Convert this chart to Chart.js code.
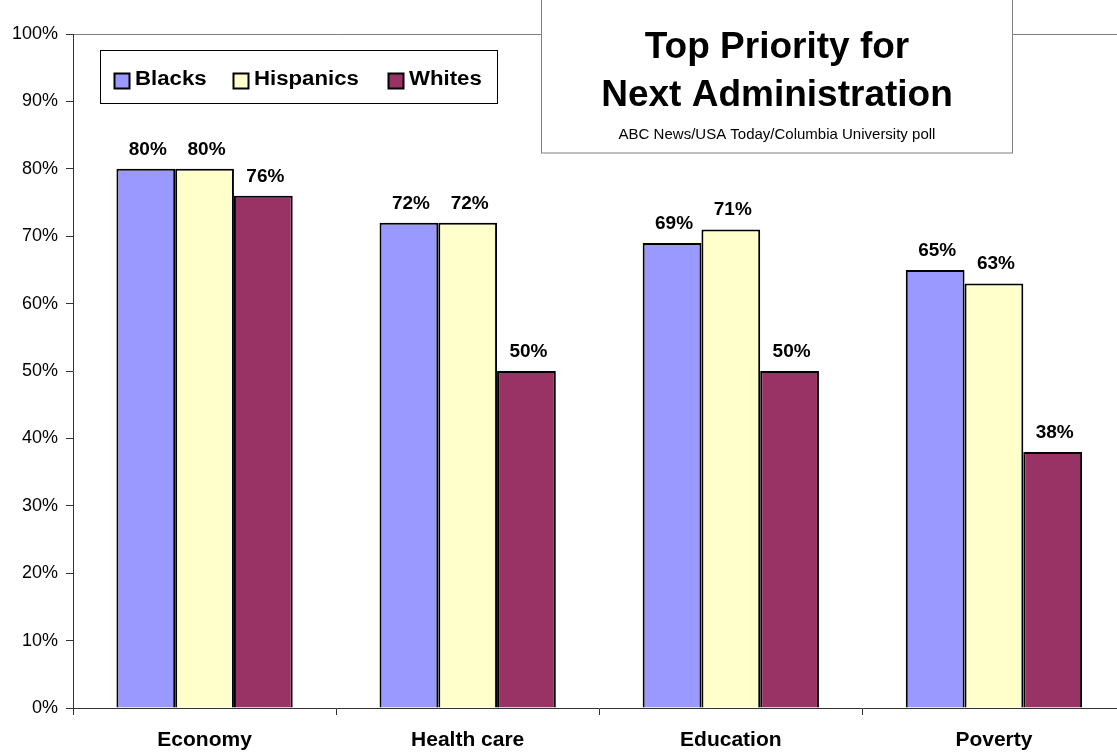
<!DOCTYPE html>
<html>
<head>
<meta charset="utf-8">
<script src="https://cdn.jsdelivr.net/npm/chart.js"></script>
<style>
  html, body { margin: 0; padding: 0; background: #fff; overflow: hidden; }
  canvas { display: block; }
</style>
</head>
<body>
<canvas id="myChart" width="1130" height="756"></canvas>
<script>
// data
const categories = ['Economy', 'Health care', 'Education', 'Poverty'];
const seriesNames = ['Blacks', 'Hispanics', 'Whites'];
const blacks = [80, 72, 69, 65];
const hispanics = [80, 72, 71, 63];
const whites = [76, 50, 50, 38];
const yTickValues = [0, 10, 20, 30, 40, 50, 60, 70, 80, 90, 100];
const titleLines = ['Top Priority for', 'Next Administration'];
const subtitle = 'ABC News/USA Today/Columbia University poll';

const colors = ['#9999FF', '#FFFFCC', '#993366'];
const FONT = '"Liberation Sans", Arial, Helvetica, sans-serif';

// value labels above each bar
const barLabels = {
  id: 'barLabels',
  afterDatasetsDraw(chart) {
    const ctx = chart.ctx;
    ctx.save();
    ctx.font = 'bold 19px ' + FONT;
    ctx.fillStyle = '#000';
    ctx.textAlign = 'center';
    ctx.textBaseline = 'alphabetic';
    chart.data.datasets.forEach((ds, i) => {
      chart.getDatasetMeta(i).data.forEach((bar, j) => {
        ctx.fillText(ds.data[j] + '%', bar.x + 2, bar.y - 14);
      });
    });
    ctx.restore();
  }
};

// boxed legend + boxed title, drawn over the plot
const boxes = {
  id: 'boxes',
  afterDraw(chart) {
    const ctx = chart.ctx;
    ctx.save();

    // legend
    ctx.fillStyle = '#fff';
    ctx.fillRect(100, 50, 398, 53);
    ctx.strokeStyle = '#000';
    ctx.lineWidth = 1;
    ctx.strokeRect(100.5, 50.5, 397, 53);
    const itemX = [114, 233, 388];
    ctx.font = 'bold 20px ' + FONT;
    ctx.textBaseline = 'alphabetic';
    ctx.textAlign = 'left';
    chart.data.datasets.forEach((ds, i) => {
      const x = itemX[i];
      ctx.fillStyle = ds.backgroundColor;
      ctx.fillRect(x, 73, 15, 15);
      ctx.strokeStyle = '#000';
      ctx.lineWidth = 2;
      ctx.strokeRect(x + 0.5, 73.5, 15, 15);
      ctx.fillStyle = '#000';
      ctx.save();
      ctx.translate(x + 21, 84.5);
      ctx.scale(1.11, 1);
      ctx.fillText(ds.label, 0, 0);
      ctx.restore();
    });

    // title
    ctx.fillStyle = '#fff';
    ctx.fillRect(541, -2, 471, 155);
    ctx.strokeStyle = '#808080';
    ctx.lineWidth = 1;
    ctx.strokeRect(541.5, -2, 471, 155);
    ctx.fillStyle = '#000';
    ctx.textAlign = 'center';
    ctx.font = 'bold 37px ' + FONT;
    ctx.fillText(titleLines[0], 777, 58);
    ctx.fillText(titleLines[1], 777, 106);
    ctx.font = '15px ' + FONT;
    ctx.fillText(subtitle, 777, 139);

    ctx.restore();
  }
};

new Chart('myChart', {
  type: 'bar',
  data: {
    labels: categories,
    datasets: [blacks, hispanics, whites].map((vals, i) => ({
      label: seriesNames[i],
      data: vals,
      backgroundColor: colors[i],
      borderColor: '#000',
      borderWidth: 2,
      categoryPercentage: 0.67,
      barPercentage: 1.0
    }))
  },
  options: {
    responsive: false,
    animation: false,
    devicePixelRatio: 1,
    layout: { padding: { left: 0, right: 4.5, top: 34, bottom: 0 } },
    plugins: {
      legend: { display: false },
      tooltip: { enabled: false },
      title: { display: false }
    },
    scales: {
      x: {
        afterFit(scale) { scale.height = 48; },
        border: { color: '#333', width: 1 },
        grid: { offset: true, drawOnChartArea: false, tickLength: 7, tickColor: '#333' },
        ticks: {
          color: '#000',
          padding: 13,
          font: { family: FONT, size: 21, weight: 'bold' }
        }
      },
      y: {
        min: 0,
        max: 100,
        afterFit(scale) { scale.width = 73; },
        afterBuildTicks(scale) { scale.ticks = yTickValues.map(v => ({ value: v })); },
        border: { color: '#333', width: 1 },
        grid: {
          drawOnChartArea: true,
          tickLength: 7,
          tickColor: '#333',
          color: c => (c.tick && c.tick.value === 100 ? '#808080' : 'rgba(0,0,0,0)')
        },
        ticks: {
          color: '#000',
          padding: 8,
          font: { family: FONT, size: 18 },
          callback: v => v + '%'
        }
      }
    }
  },
  plugins: [barLabels, boxes]
});
</script>
</body>
</html>
